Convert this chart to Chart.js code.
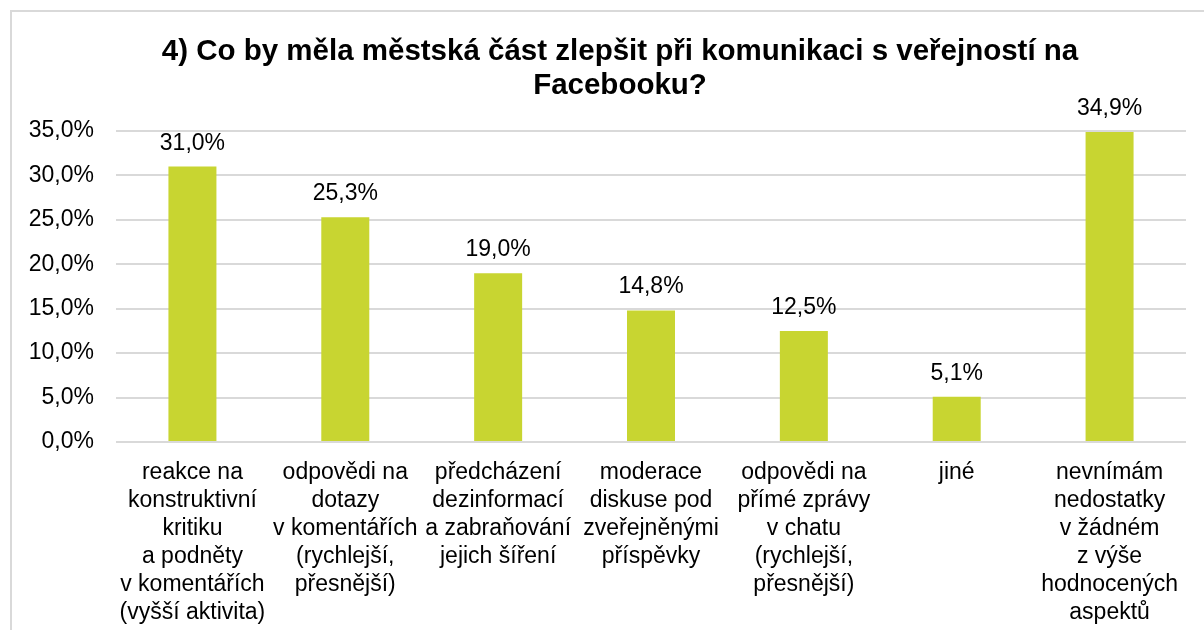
<!DOCTYPE html>
<html lang="cs">
<head>
<meta charset="utf-8">
<title>Komunikace na Facebooku</title>
<script src="https://cdn.jsdelivr.net/npm/chart.js@4/dist/chart.umd.min.js"></script>
<style>
  html, body { margin: 0; padding: 0; background: #fff; overflow: hidden; width: 1204px; height: 630px; }
  #box {
    position: absolute; left: 10px; top: 10px;
    width: 1220px; height: 640px;
    border: 2px solid #d9d9d9; box-sizing: border-box; background: #fff;
  }
  #chart { display: block; }
</style>
</head>
<body>
<div id="box"><canvas id="chart" width="1216" height="620"></canvas></div>
<script>
// data
const titleLines = ['4) Co by měla městská část zlepšit při komunikaci s veřejností na', 'Facebooku?'];
const categories = [
  ['reakce na', 'konstruktivní', 'kritiku', 'a podněty', 'v komentářích', '(vyšší aktivita)'],
  ['odpovědi na', 'dotazy', 'v komentářích', '(rychlejší,', 'přesnější)'],
  ['předcházení', 'dezinformací', 'a zabraňování', 'jejich šíření'],
  ['moderace', 'diskuse pod', 'zveřejněnými', 'příspěvky'],
  ['odpovědi na', 'přímé zprávy', 'v chatu', '(rychlejší,', 'přesnější)'],
  ['jiné'],
  ['nevnímám', 'nedostatky', 'v žádném', 'z výše', 'hodnocených', 'aspektů'],
];
const shares = [31.0, 25.3, 19.0, 14.8, 12.5, 5.1, 34.9];
const yMax = 35;
const yStep = 5;

const FONT = '"Liberation Sans", Arial, sans-serif';
const fmt = (v) => v.toFixed(1).replace('.', ',') + '%';

// labels above bars, positioned from the bar elements
const barLabels = {
  id: 'barLabels',
  afterDatasetsDraw(chart) {
    const { ctx } = chart;
    const meta = chart.getDatasetMeta(0);
    ctx.save();
    ctx.font = '23px ' + FONT;
    ctx.fillStyle = '#000';
    ctx.textAlign = 'center';
    ctx.textBaseline = 'alphabetic';
    meta.data.forEach((bar, i) => {
      ctx.fillText(fmt(shares[i]), bar.x, bar.y - 17);
    });
    ctx.restore();
  },
};

const canvas = document.getElementById('chart');
new Chart(canvas.getContext('2d'), {
  type: 'bar',
  data: {
    labels: categories,
    datasets: [{
      data: shares,
      backgroundColor: '#c8d531',
      borderWidth: 0,
      categoryPercentage: 1,
      barPercentage: 0.314,
    }],
  },
  options: {
    responsive: false,
    animation: false,
    layout: { padding: 0 },
    plugins: {
      legend: { display: false },
      tooltip: { enabled: false },
      title: {
        display: true,
        text: titleLines,
        color: '#000',
        font: { family: FONT, size: 29.5, weight: 'bold', lineHeight: 34 / 29.5 },
        padding: { top: 22.5, bottom: 28.5 },
      },
    },
    scales: {
      x: {
        grid: { display: false },
        border: { display: false },
        ticks: {
          autoSkip: false,
          maxRotation: 0,
          minRotation: 0,
          padding: 9,
          color: '#000',
          font: { family: FONT, size: 23, lineHeight: 28 / 23 },
        },
        afterFit(scale) { scale.height = 190; },
      },
      y: {
        min: 0,
        max: yMax,
        grid: { color: '#d9d9d9', lineWidth: 2, drawTicks: false },
        border: { display: false },
        ticks: {
          stepSize: yStep,
          padding: 22,
          color: '#000',
          font: { family: FONT, size: 23 },
          callback: (v) => fmt(v),
        },
        afterFit(scale) { scale.width = 104; },
      },
      // empty right-hand axis: only reserves the blank margin right of the plot
      yRight: {
        position: 'right',
        grid: { display: false },
        border: { display: false },
        ticks: { display: false },
        afterFit(scale) { scale.width = 42; },
      },
    },
  },
  plugins: [barLabels],
});
</script>
</body>
</html>
